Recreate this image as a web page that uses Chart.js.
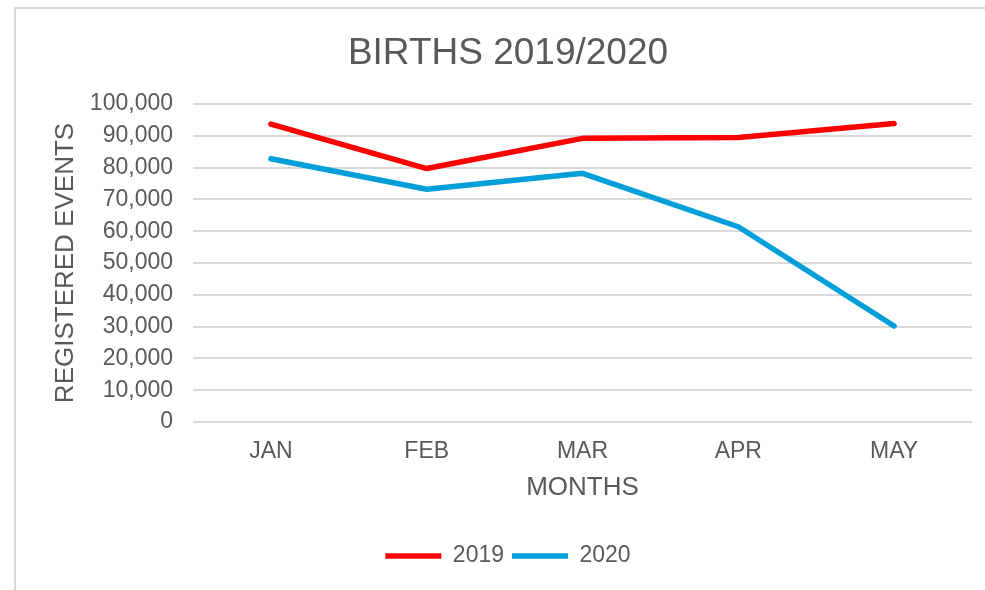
<!DOCTYPE html>
<html>
<head>
<meta charset="utf-8">
<script src="https://cdn.jsdelivr.net/npm/chart.js@4/dist/chart.umd.min.js"></script>
<style>
  html, body { margin: 0; padding: 0; background: #fff; overflow: hidden; }
  #frame { position: absolute; left: 14px; top: 7px; width: 1000px; height: 620px; border: 2px solid #d9d9d9; }
  #wrap { position: absolute; left: 0; top: 0; width: 985px; height: 590px; }
</style>
</head>
<body>
<div id="frame"></div>
<div id="wrap"><canvas id="birthsChart"></canvas></div>
<script>
const months = ["JAN", "FEB", "MAR", "APR", "MAY"];
const births2019 = [93700, 79700, 89200, 89500, 93900];
const births2020 = [82800, 73200, 78200, 61400, 30200];

const textColor = "#595959";
const fontFamily = "'Liberation Sans', Arial, sans-serif";

const ctx = document.getElementById("birthsChart").getContext("2d");

new Chart(ctx, {
  type: "line",
  data: {
    labels: months,
    datasets: [
      {
        label: "2019",
        data: births2019,
        borderColor: "#ff0000",
        backgroundColor: "#ff0000",
        borderWidth: 5.5,
        borderCapStyle: "round",
        borderJoinStyle: "round",
        pointRadius: 0,
        tension: 0
      },
      {
        label: "2020",
        data: births2020,
        borderColor: "#009fda",
        backgroundColor: "#009fda",
        borderWidth: 5.5,
        borderCapStyle: "round",
        borderJoinStyle: "round",
        pointRadius: 0,
        tension: 0
      }
    ]
  },
  options: {
    responsive: true,
    maintainAspectRatio: false,
    animation: false,
    layout: {
      padding: { left: 44, right: 13, top: 0, bottom: 12.5 }
    },
    plugins: {
      title: {
        display: true,
        text: "BIRTHS 2019/2020",
        color: textColor,
        font: { family: fontFamily, size: 37, weight: "normal" },
        padding: { top: 32, bottom: 27.6 }
      },
      legend: {
        position: "bottom",
        labels: {
          color: textColor,
          font: { family: fontFamily, size: 23 },
          usePointStyle: true,
          pointStyle: "line",
          pointStyleWidth: 56,
          padding: 8
        }
      },
      tooltip: { enabled: false }
    },
    scales: {
      x: {
        offset: true,
        afterFit: function(scale) {
          scale.height = 114.5;
        },
        grid: { display: false, drawTicks: false },
        border: { display: false },
        ticks: {
          color: textColor,
          font: { family: fontFamily, size: 23 },
          padding: 16
        },
        title: {
          display: true,
          text: "MONTHS",
          color: textColor,
          font: { family: fontFamily, size: 26 },
          padding: { top: 0, bottom: 33 }
        }
      },
      y: {
        min: 0,
        max: 100000,
        afterFit: function(scale) {
          scale.width = 149;
        },
        grid: { color: "#d9d9d9", lineWidth: 2, drawTicks: false },
        border: { display: false },
        ticks: {
          stepSize: 10000,
          color: textColor,
          font: { family: fontFamily, size: 23 },
          padding: 20,
          callback: function(value) {
            return value.toLocaleString("en-US");
          }
        },
        title: {
          display: true,
          text: "REGISTERED EVENTS",
          color: textColor,
          font: { family: fontFamily, size: 26 },
          padding: { top: 6, bottom: 0 }
        }
      }
    }
  }
});
</script>
</body>
</html>
